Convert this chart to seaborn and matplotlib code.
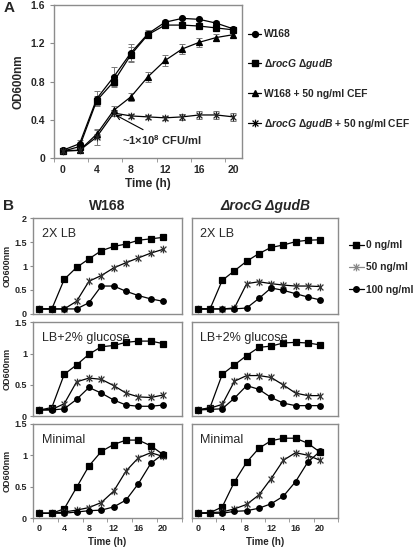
import matplotlib
matplotlib.use("Agg")
import matplotlib.pyplot as plt
from matplotlib.path import Path
from matplotlib.lines import Line2D
import seaborn as sns

sns.set_style("white")
plt.rcParams['font.family'] = ['Liberation Sans', 'DejaVu Sans']
plt.rcParams['mathtext.fontset'] = 'custom'
plt.rcParams['mathtext.rm'] = 'Liberation Sans:bold'
plt.rcParams['mathtext.it'] = 'Liberation Sans:italic:bold'
plt.rcParams['mathtext.bf'] = 'Liberation Sans:bold'


# DATA

time = [0, 2, 4, 6, 8, 10, 12, 14, 16, 18, 20]

# panel A
a_labels = ["W168",
            r"$\it{ΔrocG\ ΔgudB}$",
            "W168 + 50 ng/ml CEF",
            r"$\it{ΔrocG\ ΔgudB}$ + 50 ng/ml CEF"]
a_w168 = [0.08, 0.15, 0.62, 0.85, 1.10, 1.30, 1.42, 1.46, 1.45, 1.41, 1.35]
a_dd = [0.07, 0.12, 0.60, 0.80, 1.08, 1.29, 1.39, 1.39, 1.38, 1.36, 1.34]
a_w168_cef = [0.08, 0.08, 0.25, 0.50, 0.64, 0.85, 1.02, 1.14, 1.21, 1.26, 1.29]
a_dd_cef = [0.07, 0.08, 0.22, 0.47, 0.44, 0.43, 0.42, 0.43, 0.45, 0.45, 0.43]
a_err_w168 = [0.02, 0.04, 0.08, 0.10, 0.09, 0.04, 0.02, 0.01, 0.01, 0.02, 0.02]
a_err_dd = [0.02, 0.02, 0.05, 0.06, 0.08, 0.04, 0.02, 0.01, 0.01, 0.03, 0.02]
a_err_w168_cef = [0.02, 0.02, 0.04, 0.04, 0.04, 0.05, 0.06, 0.05, 0.05, 0.04, 0.02]
a_err_dd_cef = [0.02, 0.02, 0.08, 0.03, 0.02, 0.02, 0.02, 0.03, 0.04, 0.04, 0.04]

# panel B  (rows: 2X LB, LB+2% glucose, Minimal ; columns: W168, rocG gudB)
b_media = ["2X LB", "LB+2% glucose", "Minimal"]
b_strains = ["W168", "ΔrocG ΔgudB"]
b_doses = ["0 ng/ml", "50 ng/ml", "100 ng/ml"]

w168_lb_0 = [0.10, 0.10, 0.72, 0.97, 1.15, 1.32, 1.41, 1.46, 1.54, 1.57, 1.60]
w168_lb_50 = [0.10, 0.10, 0.10, 0.26, 0.68, 0.80, 0.96, 1.07, 1.17, 1.27, 1.35]
w168_lb_100 = [0.10, 0.10, 0.10, 0.10, 0.23, 0.58, 0.58, 0.47, 0.38, 0.31, 0.26]
dd_lb_0 = [0.10, 0.10, 0.70, 0.90, 1.10, 1.26, 1.39, 1.44, 1.51, 1.54, 1.55]
dd_lb_50 = [0.10, 0.10, 0.10, 0.12, 0.63, 0.67, 0.63, 0.60, 0.58, 0.58, 0.57]
dd_lb_100 = [0.10, 0.10, 0.10, 0.10, 0.12, 0.32, 0.54, 0.49, 0.42, 0.35, 0.29]

w168_glc_0 = [0.10, 0.14, 0.67, 0.82, 0.99, 1.11, 1.13, 1.18, 1.20, 1.20, 1.16]
w168_glc_50 = [0.10, 0.11, 0.20, 0.55, 0.61, 0.59, 0.49, 0.37, 0.31, 0.30, 0.34]
w168_glc_100 = [0.10, 0.10, 0.12, 0.27, 0.46, 0.37, 0.26, 0.18, 0.16, 0.16, 0.18]
dd_glc_0 = [0.10, 0.14, 0.67, 0.82, 0.97, 1.10, 1.12, 1.17, 1.18, 1.17, 1.14]
dd_glc_50 = [0.10, 0.13, 0.19, 0.56, 0.65, 0.65, 0.62, 0.50, 0.37, 0.33, 0.33]
dd_glc_100 = [0.10, 0.11, 0.12, 0.29, 0.49, 0.43, 0.30, 0.21, 0.17, 0.17, 0.17]

w168_min_0 = [0.08, 0.08, 0.15, 0.49, 0.83, 1.06, 1.17, 1.24, 1.24, 1.15, 1.01]
w168_min_50 = [0.08, 0.08, 0.10, 0.13, 0.17, 0.25, 0.43, 0.75, 0.96, 1.04, 0.98]
w168_min_100 = [0.08, 0.08, 0.08, 0.10, 0.12, 0.13, 0.18, 0.29, 0.55, 0.87, 1.02]
dd_min_0 = [0.08, 0.09, 0.18, 0.58, 0.89, 1.11, 1.23, 1.27, 1.27, 1.19, 1.05]
dd_min_50 = [0.08, 0.09, 0.10, 0.15, 0.22, 0.37, 0.63, 0.92, 1.04, 1.00, 0.92]
dd_min_100 = [0.08, 0.08, 0.08, 0.11, 0.12, 0.16, 0.23, 0.35, 0.58, 0.89, 1.06]

b_data = [
    [[w168_lb_0, w168_lb_50, w168_lb_100], [dd_lb_0, dd_lb_50, dd_lb_100]],
    [[w168_glc_0, w168_glc_50, w168_glc_100], [dd_glc_0, dd_glc_50, dd_glc_100]],
    [[w168_min_0, w168_min_50, w168_min_100], [dd_min_0, dd_min_50, dd_min_100]],
]


# STYLE

FRAME = '#8c8c8c'
ASTER = Path([(-1, -1), (1, 1), (-1, 1), (1, -1), (0, -1.3), (0, 1.3)],
             [Path.MOVETO, Path.LINETO, Path.MOVETO, Path.LINETO,
              Path.MOVETO, Path.LINETO])

W, H = 416, 549


def box(l, t, r, b):
    return [l / W, 1 - b / H, (r - l) / W, (b - t) / H]


def frame(ax):
    for s in ax.spines.values():
        s.set_color(FRAME)
        s.set_linewidth(1.0)


def series(ax, y, marker, color='black', ms=4.2, mec='black', lw=0.9):
    sns.lineplot(x=time, y=y, ax=ax, color=color, marker=marker,
                 markersize=ms, markeredgecolor=mec, markeredgewidth=0.9,
                 linewidth=lw, markerfacecolor='black')


fig = plt.figure(figsize=(4.16, 5.49), dpi=100)


# PANEL A

axA = fig.add_axes(box(54, 5, 242, 158))
frame(axA)
for y, err in [(a_w168, a_err_w168), (a_dd, a_err_dd),
               (a_w168_cef, a_err_w168_cef), (a_dd_cef, a_err_dd_cef)]:
    axA.errorbar(time, y, yerr=err, fmt='none', ecolor='#777777',
                 elinewidth=0.7, capsize=2, capthick=0.7)
series(axA, a_w168, 'o')
series(axA, a_dd, 's', ms=3.8)
series(axA, a_w168_cef, '^')
series(axA, a_dd_cef, ASTER, ms=5.5, mec='#222222')

axA.set_xlim(-1, 21)
axA.set_ylim(0, 1.6)
axA.set_xticks([0, 4, 8, 12, 16, 20])
axA.set_xticks([-1, 3, 7, 11, 15, 19], minor=True)
axA.tick_params(axis='x', which='major', length=0, pad=5)
axA.tick_params(axis='x', which='minor', length=3, direction='out',
                color=FRAME, bottom=True)
axA.set_yticks([0, 0.4, 0.8, 1.2, 1.6])
axA.set_yticklabels(["0", "0.4", "0.8", "1.2", "1.6"])
axA.tick_params(axis='y', length=3, direction='out', color=FRAME, left=True)
for t in axA.get_xticklabels() + axA.get_yticklabels():
    t.set_fontsize(7.5)
    t.set_fontweight('bold')
axA.set_xlabel("Time (h)", fontsize=8.5, fontweight='bold', labelpad=2)
axA.set_ylabel("OD600nm", fontsize=8.5, fontweight='bold', labelpad=4)

axA.annotate("~1×10$^{8}$ CFU/ml", xy=(6.2, 0.45), xytext=(7.0, 0.19),
             fontsize=8, fontweight='bold', va='center',
             arrowprops=dict(arrowstyle='->', lw=0.8, color='black',
                             shrinkA=0, shrinkB=0))

handles_a = [
    Line2D([], [], color='black', marker='o', markersize=4.2, lw=0.9),
    Line2D([], [], color='black', marker='s', markersize=3.8, lw=0.9),
    Line2D([], [], color='black', marker='^', markersize=4.2, lw=0.9),
    Line2D([], [], color='black', marker=ASTER, markersize=5.5, lw=0.9,
           markeredgewidth=0.9),
]
fig.legend(handles_a, a_labels, loc='upper left',
           bbox_to_anchor=(244 / W, 1 - 25 / H), frameon=False,
           prop={'size': 7.4, 'weight': 'bold'}, labelspacing=1.75,
           handlelength=1.3, handletextpad=0.2, borderaxespad=0)

fig.text(4 / W, 1 - 8 / H, "A", fontsize=11, fontweight='bold', va='center')


# PANEL B

fig.text(3 / W, 1 - 206 / H, "B", fontsize=11, fontweight='bold', va='center')
fig.text(107 / W, 1 - 206 / H, b_strains[0], fontsize=10, fontweight='bold',
         ha='center', va='center')
fig.text(265 / W, 1 - 206 / H, b_strains[1], fontsize=10, fontweight='bold',
         fontstyle='italic', ha='center', va='center')

rows = [(218.3, 313.7), (322.3, 416.3), (423.7, 518.3)]
cols = [(33.3, 181.7), (191.7, 338.3)]
ylims = [2, 1.5, 1.5]

for r, (top, bot) in enumerate(rows):
    for c, (left, right) in enumerate(cols):
        ax = fig.add_axes(box(left, top, right, bot))
        frame(ax)
        curves = b_data[r][c]
        series(ax, curves[0], 's', ms=3.8)
        series(ax, curves[1], ASTER, ms=5.5, mec='#333333')
        series(ax, curves[2], 'o', ms=4.0)
        ax.set_xlim(-1, 23)
        ax.set_ylim(0, ylims[r])
        ax.set_xlabel("")
        ax.set_ylabel("")
        ax.text(0.06, 0.84 if r == 0 else 0.83, b_media[r],
                transform=ax.transAxes, fontsize=9, va='center')
        if r == 0:
            yt = [0, 0.5, 1, 1.5, 2]
            yl = ["0", "0.5", "1", "1.5", "2"]
        else:
            yt = [0, 0.5, 1, 1.5]
            yl = ["0", "0.5", "1", "1.5"]
        ax.set_yticks(yt)
        if c == 0:
            ax.set_yticklabels(yl)
            ax.tick_params(axis='y', length=2.5, direction='out',
                           color=FRAME, left=True, pad=2)
            for t in ax.get_yticklabels():
                t.set_fontsize(6.5)
                t.set_fontweight('bold')
        else:
            ax.set_yticklabels([])
            ax.tick_params(axis='y', length=0)
        if r == 2:
            ax.set_xticks([0, 4, 8, 12, 16, 20])
            ax.set_xticks([-1, 3, 7, 11, 15, 19, 23], minor=True)
            ax.tick_params(axis='x', which='major', length=0, pad=4)
            ax.tick_params(axis='x', which='minor', length=3,
                           direction='out', color=FRAME, bottom=True)
            for t in ax.get_xticklabels():
                t.set_fontsize(6.5)
                t.set_fontweight('bold')
            ax.set_xlabel("Time (h)", fontsize=7, fontweight='bold',
                          labelpad=3)
        else:
            ax.set_xticks([])
    fig.text(7 / W, 1 - (top + bot) / 2 / H, "OD600nm", rotation=90,
             fontsize=6.5, fontweight='bold', ha='center', va='center')

handles_b = [
    Line2D([], [], color='black', marker='s', markersize=3.8, lw=0.9),
    Line2D([], [], color='#888888', marker=ASTER, markersize=5.5, lw=0.9,
           markeredgewidth=0.9, markeredgecolor='#888888'),
    Line2D([], [], color='black', marker='o', markersize=4.0, lw=0.9),
]
fig.legend(handles_b, b_doses, loc='upper left',
           bbox_to_anchor=(345 / W, 1 - 236 / H), frameon=False,
           prop={'size': 7.4, 'weight': 'bold'}, labelspacing=1.2,
           handlelength=1.4, handletextpad=0.25, borderaxespad=0)

fig.savefig("out.png", dpi=100)
